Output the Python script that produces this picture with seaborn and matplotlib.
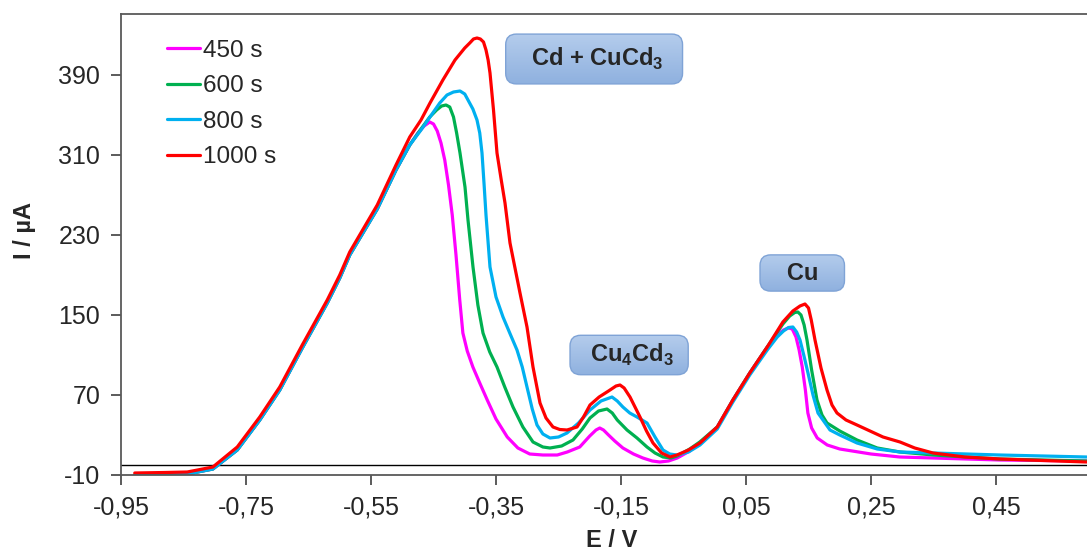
import matplotlib
matplotlib.use("Agg")
import matplotlib.pyplot as plt
import numpy as np
import pandas as pd
import seaborn as sns
from matplotlib.colors import LinearSegmentedColormap
from matplotlib.ticker import FuncFormatter

# Stripping voltammograms (E / V, I / uA)
e_450 = [-0.928, -0.88, -0.844, -0.803, -0.764, -0.728, -0.696, -0.66, -0.62, -0.60, -0.584,
         -0.54, -0.51, -0.488, -0.475, -0.465, -0.456, -0.45, -0.444, -0.438, -0.432, -0.426,
         -0.42, -0.414, -0.408, -0.403, -0.396, -0.387, -0.376, -0.364, -0.35, -0.332, -0.315,
         -0.296, -0.275, -0.252, -0.236, -0.216, -0.2, -0.19, -0.184, -0.178, -0.17, -0.16,
         -0.147, -0.13, -0.115, -0.1, -0.088, -0.074, -0.06, -0.04, -0.024, 0.004, 0.029,
         0.056, 0.084, 0.1, 0.11, 0.118, 0.124, 0.13, 0.135, 0.14, 0.145, 0.149, 0.155,
         0.164, 0.18, 0.2, 0.25, 0.296, 0.349, 0.456, 0.595]
i_450 = [-10, -10, -9, -4, 15, 45, 75, 117, 162, 187, 210,
         256, 295, 320, 332, 339, 343, 341, 334, 322, 305, 280,
         250, 210, 165, 132, 114, 98, 82, 65, 46, 28, 17,
         11, 10, 10, 13, 18, 29, 35, 37, 35, 30, 24,
         17, 11, 7, 4, 3, 4, 7, 14, 22, 38, 65,
         92, 118, 130, 135, 137, 136, 128, 115, 98, 75, 52, 37,
         27, 20, 16, 11, 8, 7, 5, 4]

e_600 = [-0.928, -0.88, -0.844, -0.803, -0.764, -0.728, -0.696, -0.66, -0.62, -0.60, -0.584,
         -0.54, -0.51, -0.488, -0.47, -0.456, -0.445, -0.437, -0.43, -0.424, -0.418, -0.413,
         -0.4076, -0.3996, -0.3948, -0.3868, -0.379, -0.3708, -0.36, -0.3484, -0.336, -0.3228,
         -0.307, -0.2908, -0.275, -0.2636, -0.245, -0.2268, -0.212, -0.1996, -0.186, -0.1724,
         -0.164, -0.156, -0.1404, -0.1244, -0.1084, -0.0956, -0.0828, -0.07, -0.06, -0.04,
         -0.024, 0.004, 0.029, 0.056, 0.084, 0.109, 0.12, 0.128, 0.133, 0.138, 0.143, 0.1476,
         0.155, 0.1636, 0.1716, 0.1796, 0.2, 0.2276, 0.26, 0.2964, 0.3492, 0.4564, 0.595]
i_600 = [-10, -10, -9, -4, 15, 45, 75, 117, 162, 187, 210,
         256, 295, 320, 336, 348, 355, 359, 360, 358, 348, 332,
         312, 278, 245, 198, 160, 132, 113, 98, 78, 58,
         38, 23, 18, 17, 19, 25, 36, 47, 54, 56,
         52, 45, 35, 27, 18, 12, 8, 7, 9, 16,
         23, 38, 65, 92, 118, 141, 149, 152.5, 153, 150, 140, 125,
         95, 65, 50, 42, 34, 25, 17, 13, 10, 6, 4]

e_800 = [-0.928, -0.88, -0.844, -0.803, -0.764, -0.728, -0.696, -0.66, -0.62, -0.60, -0.584,
         -0.54, -0.51, -0.488, -0.47, -0.4556, -0.44, -0.4284, -0.418, -0.4076, -0.4, -0.3948,
         -0.387, -0.3804, -0.376, -0.3724, -0.369, -0.366, -0.3596, -0.35, -0.3388, -0.328,
         -0.3164, -0.308, -0.3004, -0.292, -0.2844, -0.275, -0.2636, -0.25, -0.2364, -0.218,
         -0.1996, -0.182, -0.1644, -0.156, -0.147, -0.136, -0.1244, -0.1084, -0.0956, -0.0828,
         -0.072, -0.0604, -0.042, -0.0236, 0.004, 0.029, 0.056, 0.084, 0.1, 0.11, 0.118, 0.125,
         0.131, 0.1364, 0.1424, 0.1492, 0.1572, 0.1652, 0.1844, 0.2, 0.2276, 0.26, 0.2964,
         0.3492, 0.4564, 0.595]
i_800 = [-10, -10, -9, -4, 15, 45, 75, 117, 162, 187, 210,
         256, 295, 320, 335, 348, 362, 370, 373, 374, 371, 365,
         356, 345, 332, 312, 280, 250, 198, 168, 148, 132,
         115, 98, 78, 56, 40, 31, 27, 28, 32, 42,
         55, 64, 68, 64, 58, 52, 48, 42, 28, 15,
         11, 10, 13, 20, 36, 63, 90, 115, 128, 134, 137.5, 138,
         133, 125, 110, 92, 70, 52, 35, 30, 22, 16, 13,
         12, 10, 8]

e_1000 = [-0.928, -0.88, -0.844, -0.803, -0.764, -0.728, -0.696, -0.66, -0.62, -0.60, -0.584,
          -0.54, -0.51, -0.488, -0.47, -0.4556, -0.435, -0.4156, -0.40, -0.392, -0.386,
          -0.3804, -0.375, -0.37, -0.366, -0.3626, -0.3596, -0.354, -0.3484, -0.3416, -0.3356,
          -0.3276, -0.3116, -0.3004, -0.2908, -0.2796, -0.27, -0.2588, -0.248, -0.2364,
          -0.2204, -0.21, -0.1996, -0.185, -0.17, -0.158, -0.1516, -0.145, -0.1356, -0.1196,
          -0.1092, -0.0988, -0.085, -0.0716, -0.0604, -0.042, -0.0236, 0.004, 0.029, 0.056,
          0.084, 0.109, 0.125, 0.1364, 0.1444, 0.15, 0.1544, 0.1604, 0.17, 0.1796, 0.1876,
          0.1956, 0.21, 0.2276, 0.2692, 0.2964, 0.32, 0.3492, 0.4, 0.4564, 0.595]
i_1000 = [-8, -7.5, -7, -2, 18, 48, 78, 120, 165, 190, 213,
          260, 300, 328, 345, 362, 385, 405, 417, 422, 426,
          427, 426, 423, 415, 405, 392, 355, 312, 285, 262,
          222, 172, 138, 98, 62, 47, 38, 35.5, 35,
          38, 48, 60, 68, 74, 79, 80, 77, 68, 48,
          34, 22, 12, 8, 10, 15, 22, 38, 65, 92,
          118, 143, 154, 159, 161, 157, 145, 125, 97, 75, 60,
          52, 45, 40, 28, 23, 17, 12, 8, 6, 3]

labels = ["450 s", "600 s", "800 s", "1000 s"]
colors = ["#FF00FF", "#00B050", "#00B0F0", "#FF0000"]

x_ticks = [-0.95, -0.75, -0.55, -0.35, -0.15, 0.05, 0.25, 0.45]
y_ticks = [-10, 70, 150, 230, 310, 390]

notes = ["  Cd + CuCd$_\\mathbf{3}$  ", "  Cu$_\\mathbf{4}$Cd$_\\mathbf{3}$  ", "   Cu   "]
note_x = [-0.193, -0.137, 0.14]
note_y = [406, 110, 192]
note_pad = [0.5, 0.28, 0.28]

df = pd.concat([
    pd.DataFrame({"E": e, "I": i, "t": lab})
    for e, i, lab in zip([e_450, e_600, e_800, e_1000],
                         [i_450, i_600, i_800, i_1000], labels)
])

sns.set_style("white")
plt.rcParams["font.family"] = ["Liberation Sans", "DejaVu Sans"]
plt.rcParams["mathtext.fontset"] = "custom"
plt.rcParams["mathtext.rm"] = "Liberation Sans"
plt.rcParams["mathtext.bf"] = "Liberation Sans:bold"
plt.rcParams["axes.unicode_minus"] = False

fig = plt.figure(figsize=(10.87, 5.53), dpi=100)
ax = fig.add_axes([121 / 1087, 78 / 553, 966 / 1087, 461 / 553])

sns.lineplot(data=df, x="E", y="I", hue="t", palette=colors, hue_order=labels,
             estimator=None, sort=False, linewidth=2.3, ax=ax)
ax.axhline(0, color="black", linewidth=1.0, zorder=1)

ax.set_xlim(-0.95, 0.5956)
ax.set_ylim(-10, 451)
ax.set_xticks(x_ticks)
ax.set_yticks(y_ticks)
ax.xaxis.set_major_formatter(FuncFormatter(lambda v, p: f"{v:.2f}".replace(".", ",")))
ax.tick_params(axis="both", direction="out", length=7, width=1.2, color="#404040",
               labelsize=18, pad=8, bottom=True, left=True)
for side in ["left", "bottom", "top"]:
    ax.spines[side].set_color("#595959")
    ax.spines[side].set_linewidth(1.3)
ax.spines["right"].set_visible(False)

ax.set_xlabel("E / V", fontsize=17, fontweight="bold")
ax.set_ylabel("I / µA", fontsize=17, fontweight="bold")
ax.xaxis.set_label_coords(0.508, -0.118)
ax.yaxis.set_label_coords(-0.088, 0.53)

ax.legend(loc="upper left", bbox_to_anchor=(0.038, 0.965), frameon=False, fontsize=17.5,
          handlelength=1.35, handletextpad=0.1, labelspacing=0.55, borderaxespad=0)

# label boxes, filled afterwards with a light-to-darker blue gradient
texts = []
for txt, x, y, pad in zip(notes, note_x, note_y, note_pad):
    t = ax.text(x, y, txt, fontsize=17, fontweight="bold", ha="center", va="center",
                zorder=6,
                bbox=dict(boxstyle=f"round,pad={pad},rounding_size=0.45",
                          fc="none", ec="#7FA3D6", lw=1.0))
    texts.append(t)

fig.canvas.draw()
blue = LinearSegmentedColormap.from_list("box", ["#8FB1DF", "#B4CCEC"])
grad = np.linspace(0, 1, 64).reshape(-1, 1)
inv = ax.transData.inverted()
for t in texts:
    patch = t.get_bbox_patch()
    bb = patch.get_window_extent()
    (x0, y0), (x1, y1) = inv.transform([[bb.x0, bb.y0], [bb.x1, bb.y1]])
    im = ax.imshow(grad, extent=[x0, x1, y0, y1], origin="lower", aspect="auto",
                   cmap=blue, zorder=5, interpolation="bilinear")
    im.set_clip_path(patch)
ax.set_xlim(-0.95, 0.5956)
ax.set_ylim(-10, 451)

fig.savefig("out.png", dpi=100)
